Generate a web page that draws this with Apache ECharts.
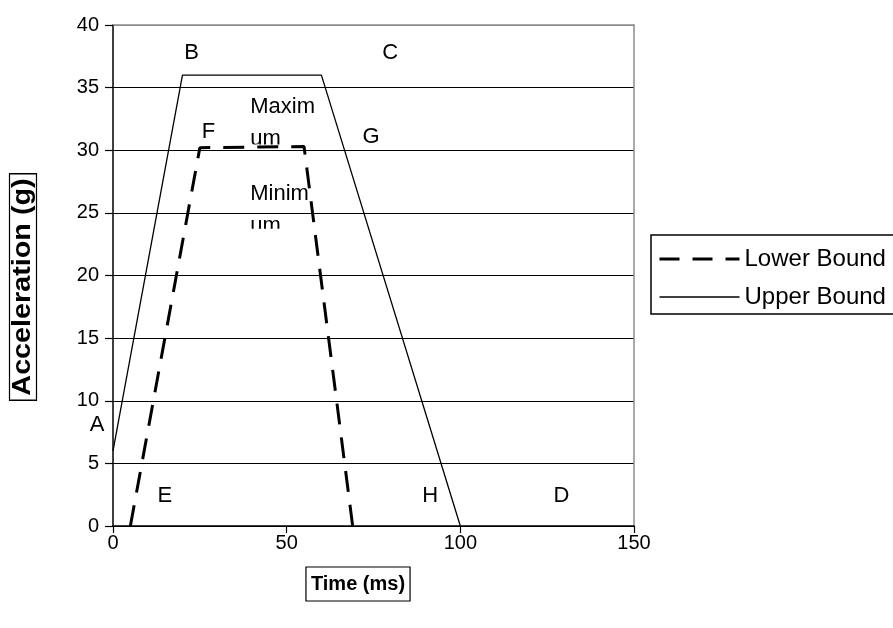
<!DOCTYPE html>
<html><head><meta charset="utf-8">
<script src="https://cdn.jsdelivr.net/npm/echarts@6/dist/echarts.min.js"></script>
<style>html,body{margin:0;padding:0;background:#fff}#c{width:893px;height:628px}</style>
</head><body><div id="c"></div>
<script>
// ---- data ----
const seriesNames = ['Lower Bound', 'Upper Bound'];
const lowerX = [5, 25, 55, 69];
const lowerY = [0, 30.2, 30.3, 0];
const upperX = [0, 20, 60, 100];
const upperY = [6, 36, 36, 0];
const xTicks = [0, 50, 100, 150];
const yTicks = [0, 5, 10, 15, 20, 25, 30, 35, 40];
const xTitle = 'Time (ms)';
const yTitle = 'Acceleration (g)';
const noteText = ['A', 'B', 'C', 'D', 'E', 'F', 'G', 'H', 'Maxim\num', 'Minim\num'];
const noteX = [-4.6, 22.6, 79.8, 129.1, 14.9, 27.5, 74.3, 91.3, 39.5, 39.5];
const noteY = [8.1, 37.8, 37.8, 2.4, 2.4, 31.5, 31.1, 2.4, 34.7, 27.8];

// ---- chart ----
const FONT = '"Liberation Sans", Arial, Helvetica, sans-serif';
const BOX_H = [0, 0, 0, 0, 0, 0, 0, 0, 57, 55]; // visible height of the wrapped text boxes
const chart = echarts.init(document.getElementById('c'), null, { renderer: 'canvas' });
const zip = (xs, ys) => xs.map((x, i) => [x, ys[i]]);
const gridColors = yTicks.map((v, i) => i === yTicks.length - 1 ? '#8c8c8c' : '#000');
const lowerStyle = { color: '#000', width: 3, type: [21, 13] };
const upperStyle = { color: '#000', width: 1.3, type: 'solid' };

chart.setOption({
  animation: false,
  backgroundColor: '#fff',
  textStyle: { fontFamily: FONT, color: '#000' },
  grid: { left: 113, right: 259, top: 25, bottom: 102, containLabel: false },
  xAxis: [{
    type: 'value', min: xTicks[0], max: xTicks[xTicks.length - 1], interval: xTicks[1] - xTicks[0],
    axisLine: { onZero: false, lineStyle: { color: '#000', width: 1.5 } },
    axisTick: { show: true, length: 7, inside: false, lineStyle: { color: '#000', width: 1.2 } },
    axisLabel: { color: '#000', fontSize: 20, fontFamily: FONT, margin: 7 },
    splitLine: { show: false }
  }, {
    type: 'value', position: 'top', min: xTicks[0], max: xTicks[xTicks.length - 1],
    axisLine: { show: true, onZero: false, lineStyle: { color: '#8c8c8c', width: 1.5 } },
    axisTick: { show: false }, axisLabel: { show: false }, splitLine: { show: false }
  }],
  yAxis: [{
    type: 'value', min: yTicks[0], max: yTicks[yTicks.length - 1], interval: yTicks[1] - yTicks[0],
    axisLine: { show: true, onZero: false, lineStyle: { color: '#000', width: 1.5 } },
    axisTick: { show: true, length: 8, inside: false, lineStyle: { color: '#000', width: 1.2 } },
    axisLabel: { color: '#000', fontSize: 20, fontFamily: FONT, margin: 14 },
    splitLine: { show: true, lineStyle: { color: gridColors, width: 1.2 } }
  }, {
    type: 'value', position: 'right', min: yTicks[0], max: yTicks[yTicks.length - 1],
    axisLine: { show: true, onZero: false, lineStyle: { color: '#8c8c8c', width: 1.5 } },
    axisTick: { show: false }, axisLabel: { show: false }, splitLine: { show: false }
  }],
  legend: {
    data: [
      { name: seriesNames[0], lineStyle: { width: 3, type: [20, 13], color: '#000' } },
      { name: seriesNames[1], lineStyle: { width: 1.3, type: 'solid', color: '#000' } }
    ],
    orient: 'vertical', left: 651, top: 235,
    itemWidth: 80, itemHeight: 24, itemGap: 14,
    padding: [12, 30, 5, 7],
    borderColor: '#000', borderWidth: 1.5,
    itemStyle: { opacity: 0 },
    textStyle: { fontSize: 24, color: '#000', fontFamily: FONT }
  },
  graphic: [{
    type: 'text', x: 23, y: 287, rotation: Math.PI / 2, scaleX: 1.15,
    style: { text: yTitle, font: 'bold 25px ' + FONT, fill: '#000', align: 'center', verticalAlign: 'middle',
      borderColor: '#000', borderWidth: 1.2, padding: [2, 4, 0, 4] }
  }, {
    type: 'text', x: 358, y: 584,
    style: { text: xTitle, font: 'bold 20px ' + FONT, fill: '#000', align: 'center', verticalAlign: 'middle',
      borderColor: '#000', borderWidth: 1.2, padding: [8, 5, 6, 5] }
  }],
  series: [{
    name: seriesNames[0], type: 'line', data: zip(lowerX, lowerY),
    symbol: 'none', showSymbol: false, z: 3,
    itemStyle: { color: '#000' },
    lineStyle: lowerStyle
  }, {
    name: seriesNames[1], type: 'line', data: zip(upperX, upperY),
    symbol: 'none', showSymbol: false, z: 3,
    itemStyle: { color: '#000' },
    lineStyle: upperStyle
  }, {
    type: 'custom', coordinateSystem: 'cartesian2d', clip: false, silent: true, z: 4,
    data: zip(noteX, noteY),
    renderItem: function (params, api) {
      const i = params.dataIndex;
      const p = api.coord([api.value(0), api.value(1)]);
      const t = noteText[i];
      const multi = t.indexOf('\n') >= 0;
      const txt = {
        type: 'text', x: 0, y: 0,
        style: { text: t, fill: '#000', font: '22px ' + FONT,
          align: multi ? 'left' : 'center', verticalAlign: multi ? 'top' : 'middle', lineHeight: 32 }
      };
      const g = { type: 'group', x: p[0], y: p[1], children: [txt] };
      if (multi) g.clipPath = { type: 'rect', shape: { x: -4, y: -4, width: 100, height: BOX_H[i] } };
      return g;
    }
  }]
});
</script>
</body></html>
